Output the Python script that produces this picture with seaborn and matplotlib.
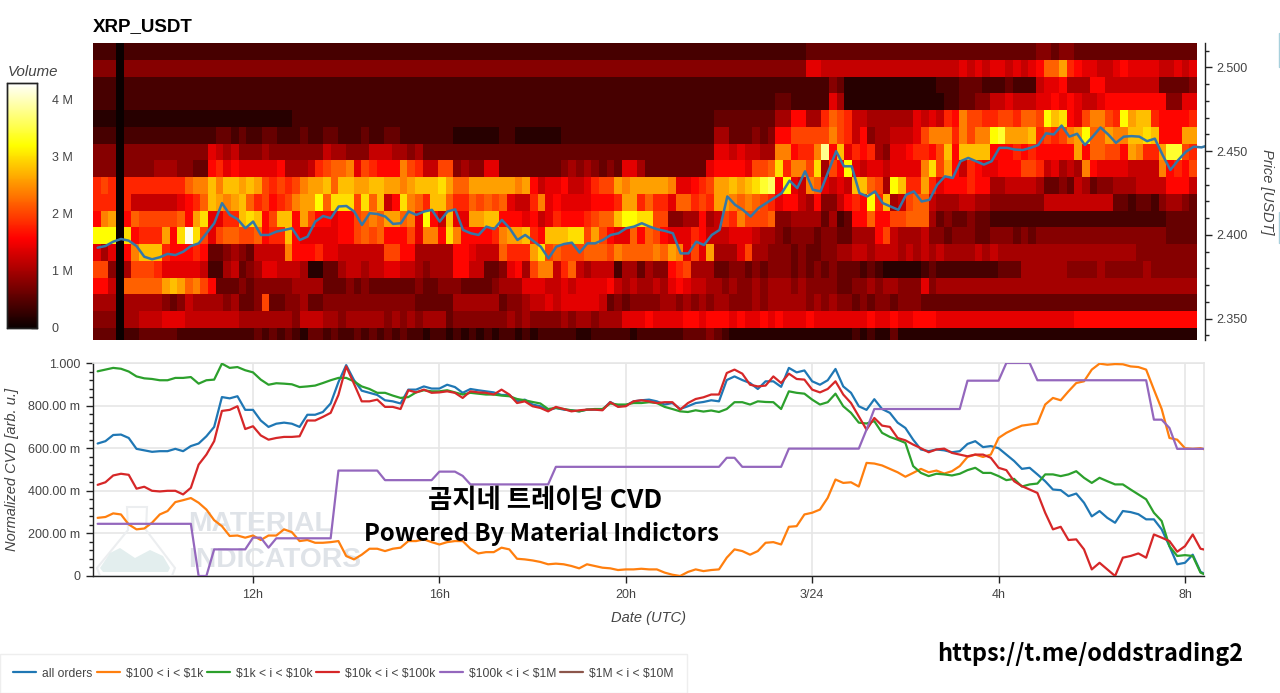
import numpy as np
import pandas as pd
import matplotlib
matplotlib.use("Agg")
import matplotlib.pyplot as plt
from matplotlib.lines import Line2D
from matplotlib.patches import Polygon
from matplotlib.ticker import MultipleLocator
from matplotlib.transforms import Affine2D
import seaborn as sns

W, H = 1280, 693
GREY = "#444444"
GRID = "#e6e6e6"

# Volume per price band, top row first. One character per 10 min bin, base 36, unit 0.2 M
vol_left = [
    "2220" + "2" * 38,
    "4440" + "4" * 38,
    "2220" + "2" * 38,
    "2220" + "2" * 38,
    "1110" + "1" * 22 + "2" * 16,
    "2220" + "2" * 12 + "33232233222322332223223322",
    "4440" + "44444444444" + "7656" + "44454444444" + "6554" + "44" + "6665" + "54",
    "4440" + "44445554" + "433" + "8978" + "777778" + "5556" + "9abbc" + "7a" + "9888" + "ca",
    "9a90" + "99999999" + "bcc" + "ecee" + "ded" + "a9a9a" + "cddeb" + "eedde" + "edd" + "cd",
    "9990" + "9" + "6666667" + "89b" + "ed" + "cde" + "b" + "9a89a" + "cdd" + "gbf" + "ff" + "afbe" + "68" + "fc",
    "8cd0" + "8" + "baaaaab" + "8df" + "77" + "99" + "efe" + "8a" + "ee" + "8da88" + "7" + "88" + "abcb" + "dd" + "bc",
    "ggg0" + "f" + "8999" + "d8f" + "lfa" + "7" + "abba" + "ab" + "899" + "e" + "877" + "77788" + "a" + "bab" + "888" + "a",
    "7570" + "8" + "ceee" + "9888" + "98" + "33" + "4543" + "6666" + "c" + "8889" + "7766" + "6666" + "aa" + "88",
    "aa40" + "5" + "aaa9" + "777" + "776" + "22" + "56" + "345" + "776" + "665" + "11" + "33" + "56" + "656" + "67766",
    "8860" + "bbbbb" + "ded" + "bca" + "8" + "33343" + "4444" + "4555" + "533" + "3434333333",
    "5550" + "55555" + "434" + "655" + "5545" + "334" + "a" + "3344" + "533" + "444444444444",
    "4440" + "55666" + "777" + "666" + "666655" + "555" + "554" + "666" + "554" + "555554545",
    "3330" + "223333" + "32222" + "222222" + "3232" + "321" + "33232" + "232323232",
]
vol_mid = [
    "2" * 51 + "3333",
    "4" * 51 + "7766",
    "2" * 51 + "2224",
    "2" * 47 + "33" + "22222" + "7",
    "2" * 39 + "33333333" + "55" + "88" + "55" + "9b",
    "22222" + "111111" + "22" + "111111" + "2" * 20 + "55" + "333434" + "88" + "aa" + "aaa" + "c",
    "5" + "3333" + "3" * 34 + "77676655" + "cc" + "899" + "c" + "j" + "8",
    "9" + "66" + "aa" + "4" + "5" + "44" + "77" + "3333333" + "34545" + "4343" + "77" + "53" + "3333333" + "7" + "88887" + "aab" + "f" + "9" + "cca" + "f" + "5" + "a",
    "eeefd" + "bb" + "d" + "ddd" + "ddc" + "d" + "8" + "677" + "8" + "667" + "9aa" + "d" + "cddddd" + "c" + "77" + "89a" + "dd" + "e" + "d" + "ef" + "hi" + "8" + "g" + "76" + "c" + "b" + "76",
    "b" + "9" + "ee" + "b" + "99" + "baba" + "b" + "766" + "9c" + "787777888" + "9" + "dd" + "9" + "b" + "99" + "7" + "bb" + "9a9" + "dd" + "cbc" + "ba9" + "7" + "88" + "6" + "5" + "8" + "44",
    "7" + "g" + "86" + "e" + "77" + "ddee" + "888" + "7" + "8" + "679" + "888" + "9abb" + "e" + "gg" + "ff" + "aa" + "44" + "55" + "8" + "5" + "6" + "a9" + "c" + "aaab" + "44" + "555" + "535",
    "7" + "cc" + "8" + "f" + "c" + "88889" + "cdde" + "98" + "eeeff" + "a" + "d" + "a8" + "77" + "b" + "8" + "ba" + "8" + "777" + "98" + "66677" + "7" + "655" + "43444344",
    "55555" + "887" + "666" + "b" + "999" + "df" + "abaaabbba" + "c" + "bbbbcb" + "dc" + "7" + "a" + "7" + "d" + "555" + "7" + "a" + "554" + "44343344",
    "54555" + "88" + "66" + "33" + "4" + "78" + "5" + "acc" + "6" + "9b" + "656" + "66" + "2" + "55" + "3" + "5" + "44" + "89a" + "555" + "33443434" + "44343434",
    "433444" + "33334" + "555" + "777" + "667677" + "778" + "6565565" + "787" + "665" + "5454454555454444",
    "33333" + "555555" + "344" + "5667" + "67777" + "76" + "3434" + "4445" + "545" + "454" + "5544" + "4545" + "55554545",
    "4" + "555" + "3" + "444444454544445455455" + "5" + "777" + "877778" + "8788878778787778777",
    "21221" + "21212122121" + "22222112222" + "21222222" + "3334" + "3211" + "1" * 12,
]
vol_right = [
    "3" * 26 + "44344" + "33" + "3" * 9 + "3" * 5,
    "6" * 16 + "7676776767" + "8bbd9" + "87" + "7667" + "87" + "77766767",
    "3" + "111111111111222" + "3332223222" + "6778" + "555" + "88" + "6666666" + "33334",
    "5" + "111111111111122" + "3344" + "667666" + "778787" + "667" + "88888888" + "44" + "77",
    "a9" + "66" + "55555576" + "76" + "98" + "c" + "aa9" + "9aa9bb" + "a" + "g" + "e" + "f" + "8" + "7" + "a" + "cc" + "a9" + "g" + "d" + "ee" + "9" + "8888" + "9",
    "a9" + "68" + "45" + "56" + "667" + "a" + "ccc" + "9" + "c" + "ac" + "c" + "gh" + "ddde" + "9" + "a" + "9" + "a" + "cd" + "g" + "bb" + "dc" + "c" + "eefe" + "888" + "dd",
    "e7" + "98" + "9" + "54" + "77" + "899" + "8" + "a" + "e" + "8" + "eeee" + "888989" + "88888" + "d" + "8" + "bbaa" + "8" + "dc" + "99" + "d" + "hh" + "a9",
    "8g" + "76776777" + "7" + "cf" + "a" + "d" + "869877" + "888" + "aa9" + "67565" + "c" + "8777" + "76666" + "c" + "89" + "8a",
    "76" + "ee" + "b" + "a" + "5" + "g" + "e" + "9" + "9" + "d" + "9" + "788" + "8988" + "5566665" + "3343" + "65" + "344" + "555" + "666" + "6" + "888" + "6",
    "6" + "898" + "g" + "9" + "e" + "56" + "ab" + "b" + "6" + "555" + "6655" + "4444444" + "666666666" + "332332" + "45543",
    "23" + "88" + "b" + "88" + "a" + "abb" + "b" + "5" + "343" + "3433" + "2" * 22 + "2" + "3333",
    "33" + "555" + "8a" + "65556" + "4434" + "4433" + "444343444444444444444443333",
    "556656665656565" + "55565655555" + "555555555" + "555544444444",
    "3332321111123222" + "2222" + "2333" + "55555544445444445444444",
    "33" + "445455444" + "74" + "5" * 34,
    "443434434" + "44" + "3" * 36,
    "7777877877888" + "7" * 18 + "8" * 16,
    "1121211" + "3" + "1" * 39,
]

# Price line, USDT, one value per 10 min
price = [
    2.3924, 2.3934, 2.3960, 2.3976, 2.3966, 2.3934, 2.3870, 2.3855, 2.3867, 2.3887,
    2.3880, 2.3900, 2.3934, 2.3950, 2.4010, 2.4070, 2.4190, 2.4120, 2.4094, 2.4040,
    2.4080, 2.4000, 2.4000, 2.4020, 2.4030, 2.4040, 2.3970, 2.3990, 2.4080, 2.4113,
    2.4100, 2.4170, 2.4173, 2.4140, 2.4060, 2.4130, 2.4125, 2.4110, 2.4066, 2.4070,
    2.4140, 2.4120, 2.4140, 2.4150, 2.4080, 2.4140, 2.4153, 2.4030, 2.4010, 2.4000,
    2.4050, 2.4035, 2.4090, 2.4040, 2.3970, 2.4000, 2.3966, 2.3930, 2.3860, 2.3930,
    2.3946, 2.3954, 2.3895, 2.3950, 2.3950, 2.3970, 2.4000, 2.4010, 2.4040, 2.4050,
    2.4070, 2.4050, 2.4034, 2.4024, 2.4010, 2.3890, 2.3890, 2.3960, 2.3940, 2.4000,
    2.4030, 2.4230, 2.4180, 2.4150, 2.4110, 2.4160, 2.4190, 2.4220, 2.4250, 2.4324,
    2.4280, 2.4380, 2.4270, 2.4260, 2.4380, 2.4500, 2.4410, 2.4410, 2.4250, 2.4230,
    2.4260, 2.4190, 2.4170, 2.4150, 2.4240, 2.4260, 2.4200, 2.4210, 2.4300, 2.4350,
    2.4340, 2.4440, 2.4460, 2.4440, 2.4420, 2.4440, 2.4520, 2.4520, 2.4510, 2.4507,
    2.4520, 2.4537, 2.4607, 2.4600, 2.4653, 2.4587, 2.4604, 2.4537, 2.4587, 2.4642,
    2.4600, 2.4550, 2.4587, 2.4590, 2.4587, 2.4560, 2.4575, 2.4477, 2.4388, 2.4447,
    2.4497, 2.4527, 2.4523, 2.4537,
]

# Normalized CVD per order size bucket, one value per 10 min
cvd_all = [
    .622, .633, .662, .664, .648, .597, .590, .583, .586, .586,
    .597, .586, .610, .622, .656, .700, .840, .834, .844, .780,
    .780, .730, .700, .715, .720, .715, .700, .757, .757, .770,
    .810, .910, .990, .920, .870, .860, .850, .825, .820, .810,
    .875, .875, .890, .880, .880, .898, .887, .860, .878, .872,
    .867, .862, .850, .850, .820, .828, .805, .797, .778, .789,
    .781, .778, .773, .781, .781, .781, .817, .797, .800, .820,
    .825, .828, .820, .805, .812, .784, .797, .812, .817, .825,
    .820, .920, .937, .920, .906, .878, .914, .914, .888, .977,
    .956, .965, .914, .898, .919, .972, .890, .860, .797, .780,
    .830, .784, .766, .720, .695, .640, .594, .586, .594, .590,
    .581, .586, .620, .633, .605, .610, .600, .570, .540, .503,
    .508, .477, .445, .406, .403, .375, .387, .344, .280, .305,
    .273, .250, .305, .300, .290, .266, .266, .219, .140, .055,
    .062, .100, .020, .000,
]
cvd_100_1k = [
    .273, .277, .294, .289, .242, .219, .223, .250, .289, .305,
    .347, .356, .366, .344, .312, .262, .234, .188, .190, .180,
    .190, .169, .190, .190, .219, .206, .164, .169, .156, .156,
    .159, .164, .094, .078, .100, .128, .128, .117, .128, .133,
    .164, .164, .172, .159, .148, .159, .164, .164, .128, .106,
    .112, .112, .133, .125, .081, .078, .073, .066, .055, .058,
    .055, .047, .036, .055, .047, .039, .036, .028, .031, .031,
    .034, .031, .031, .016, .006, .000, .019, .031, .023, .028,
    .031, .086, .125, .117, .100, .117, .156, .159, .148, .231,
    .234, .289, .297, .312, .367, .453, .437, .440, .420, .531,
    .528, .519, .503, .487, .466, .484, .503, .487, .495, .481,
    .492, .516, .559, .570, .559, .570, .648, .672, .690, .706,
    .711, .716, .805, .836, .825, .867, .906, .914, .969, .997,
    .992, .995, .994, .984, .981, .969, .875, .784, .648, .640,
    .600, .597, .600, .590,
]
cvd_1k_10k = [
    .961, .969, .977, .973, .960, .937, .928, .925, .919, .919,
    .930, .930, .934, .903, .919, .922, .997, .977, .981, .966,
    .956, .922, .898, .905, .903, .900, .887, .890, .894, .906,
    .919, .930, .930, .914, .890, .878, .860, .860, .847, .836,
    .840, .862, .872, .867, .867, .872, .862, .852, .860, .856,
    .852, .852, .847, .844, .831, .825, .817, .810, .784, .789,
    .784, .778, .773, .781, .784, .784, .810, .805, .805, .812,
    .812, .816, .812, .794, .784, .773, .770, .778, .772, .777,
    .770, .784, .816, .816, .805, .820, .817, .816, .784, .867,
    .860, .856, .828, .805, .816, .856, .797, .766, .720, .716,
    .727, .672, .653, .640, .625, .516, .484, .469, .480, .477,
    .472, .480, .497, .508, .484, .484, .469, .450, .456, .420,
    .430, .434, .477, .477, .469, .477, .492, .461, .437, .461,
    .445, .430, .430, .406, .383, .360, .297, .258, .140, .094,
    .098, .094, .016, .000,
]
cvd_10k_100k = [
    .428, .440, .472, .480, .475, .410, .419, .400, .397, .400,
    .400, .383, .414, .523, .570, .633, .775, .780, .797, .690,
    .703, .660, .640, .648, .653, .653, .656, .730, .730, .747,
    .766, .850, .984, .903, .820, .820, .828, .794, .794, .784,
    .872, .862, .875, .860, .862, .867, .860, .836, .867, .862,
    .860, .852, .875, .852, .812, .820, .797, .789, .773, .794,
    .784, .773, .778, .781, .781, .778, .816, .794, .797, .820,
    .825, .820, .812, .816, .816, .781, .812, .831, .839, .852,
    .852, .953, .969, .950, .898, .890, .894, .937, .906, .950,
    .925, .922, .875, .862, .878, .914, .852, .812, .750, .687,
    .742, .706, .700, .648, .637, .617, .600, .581, .594, .598,
    .578, .570, .562, .570, .570, .555, .508, .497, .445, .422,
    .406, .390, .297, .219, .231, .169, .172, .125, .031, .062,
    .031, .000, .086, .094, .106, .086, .195, .180, .164, .114,
    .140, .195, .128, .120,
]
cvd_100k_1m = (
    [.245] * 13 + [0, 0] + [.125] * 5 + [.18, .18, .133] + [.177] * 8
    + [.495] * 6 + [.45] * 7 + [.49, .49, .49, .47] + [.43] * 11
    + [.5125] * 22 + [.555, .555] + [.5125] * 6 + [.598] * 10 + [.6875]
    + [.784] * 12 + [.917] * 5 + [1.0] * 4 + [.919] * 15
    + [.734, .734, .695] + [.597] * 5
)

series_names = ["all orders", "$100 < i < $1k", "$1k < i < $10k", "$10k < i < $100k", "$100k < i < $1M", "$1M < i < $10M"]
series_colors = ["#1f77b4", "#ff7f0e", "#2ca02c", "#d62728", "#9467bd", "#8c564b"]

cvd_yticks = [0, 0.2, 0.4, 0.6, 0.8, 1.0]
cvd_ylabels = ["0", "200.00 m", "400.00 m", "600.00 m", "800.00 m", "1.000"]
date_ticks = ["2025-03-23 12:00", "2025-03-23 16:00", "2025-03-23 20:00", "2025-03-24 00:00", "2025-03-24 04:00", "2025-03-24 08:00"]
date_labels = ["12h", "16h", "20h", "3/24", "4h", "8h"]
volume_ticks = [0, 1, 2, 3, 4]
volume_labels = ["0", "1 M", "2 M", "3 M", "4 M"]

sns.set_style("white")
plt.rcParams["font.family"] = ["Liberation Sans", "DejaVu Sans"]
plt.rcParams["text.parse_math"] = False

fig = plt.figure(figsize=(W / 100, H / 100), dpi=100)
to_px = Affine2D().scale(1 / W, -1 / H).translate(0, 1) + fig.transFigure


def px_axes(left, top, right, bottom, **kwargs):
    return fig.add_axes([left / W, 1 - bottom / H, (right - left) / W, (bottom - top) / H], **kwargs)


times = pd.date_range("2025-03-23 08:40", periods=len(cvd_all), freq="10min")
x_start, x_end = pd.Timestamp("2025-03-23 08:34"), pd.Timestamp("2025-03-24 08:24:30")

# Heatmap and colour bar
volume = np.array([[int(c, 36) for c in a + b + c_] for a, b, c_ in zip(vol_left, vol_mid, vol_right)]) * 0.2
ax_heat = px_axes(93, 43, 1197, 340)
ax_bar = px_axes(7.3, 82.7, 36.7, 328)
sns.heatmap(volume, ax=ax_heat, cbar_ax=ax_bar, cmap="hot", vmin=0, vmax=4.3,
            xticklabels=False, yticklabels=False, linewidths=0)
ax_heat.set_ylim(17.72, 0)

ax_bar.yaxis.set_ticks_position("right")
ax_bar.set_yticks(volume_ticks, volume_labels)
ax_bar.tick_params(axis="y", direction="in", length=4, width=1, color="#222222", pad=11, labelsize=9, labelcolor=GREY)
for spine in ax_bar.spines.values():
    spine.set_visible(True)
    spine.set_edgecolor("#222222")
    spine.set_linewidth(1)
fig.text(8, 72, "Volume", transform=to_px, style="italic", fontsize=10.8, color=GREY, ha="left", va="center")

# Price line on its own scale over the heatmap
ax_price = px_axes(93, 43, 1205, 340)
ax_price.patch.set_alpha(0)
sns.lineplot(x=times, y=price, ax=ax_price, color="#3478a8", linewidth=1.8, errorbar=None)
ax_price.set_xlim(x_start, x_end)
ax_price.set_ylim(2.3373, 2.5146)
ax_price.set_xticks([])
ax_price.set_xlabel("")
ax_price.set_ylabel("")
ax_price.yaxis.tick_right()
ax_price.yaxis.set_major_locator(MultipleLocator(0.05))
ax_price.yaxis.set_minor_locator(MultipleLocator(0.01))
ax_price.yaxis.set_major_formatter(lambda v, pos: f"{v:.3f}")
ax_price.tick_params(axis="y", which="major", direction="out", length=5, width=1, color="#222222", pad=3.5, labelsize=9, labelcolor=GREY)
ax_price.tick_params(axis="y", which="minor", direction="out", length=3, width=1, color="#222222")
for side in ["left", "top", "bottom"]:
    ax_price.spines[side].set_visible(False)
ax_price.spines["right"].set_color("#222222")
ax_price.spines["right"].set_linewidth(1)
fig.text(1267, 192, "Price [USDT]", transform=to_px, style="italic", fontsize=10.5, color=GREY,
         rotation=270, ha="center", va="center")

fig.text(93, 27, "XRP_USDT", transform=to_px, fontweight="bold", fontsize=13.5, color="black", ha="left", va="center")

# Slivers of the neighbouring page at the right edge
fig.add_artist(Line2D([1279, 1279], [33, 67], transform=to_px, color="#a8d0dc", linewidth=1))
fig.add_artist(Line2D([1279, 1279], [212, 243], transform=to_px, color="#a8d0dc", linewidth=1))

# CVD lines
ax_cvd = px_axes(93, 363, 1204, 576)
all_series = [cvd_all, cvd_100_1k, cvd_1k_10k, cvd_10k_100k, cvd_100k_1m]
for name, color, values in zip(series_names, series_colors, all_series):
    sns.lineplot(x=times, y=values, ax=ax_cvd, color=color, linewidth=1.6, label=name, errorbar=None, zorder=3)
ax_cvd.set_xlim(x_start, x_end)
ax_cvd.set_ylim(0, 1)
ax_cvd.set_yticks(cvd_yticks, cvd_ylabels)
ax_cvd.yaxis.set_minor_locator(MultipleLocator(0.04))
ax_cvd.set_xticks(pd.to_datetime(date_ticks), date_labels)
ax_cvd.grid(True, which="major", color=GRID, linewidth=1.2)
ax_cvd.set_axisbelow(True)
ax_cvd.tick_params(axis="both", which="major", direction="out", length=5, width=1, color="#222222", pad=4, labelsize=9, labelcolor=GREY)
ax_cvd.tick_params(axis="y", which="minor", direction="out", length=3, width=1, color="#222222", left=True)
ax_cvd.tick_params(axis="both", which="major", left=True, bottom=True)
ax_cvd.set_xlabel("Date (UTC)", style="italic", fontsize=10.5, color=GREY, labelpad=7.5)
ax_cvd.set_ylabel("")
fig.text(12, 469, "Normalized CVD [arb. u.]", transform=to_px, style="italic", fontsize=10.5, color=GREY,
         rotation=90, ha="center", va="center")
for side in ["left", "bottom"]:
    ax_cvd.spines[side].set_color("#222222")
    ax_cvd.spines[side].set_linewidth(1)
for side in ["top", "right"]:
    ax_cvd.spines[side].set_color(GRID)
    ax_cvd.spines[side].set_linewidth(1.2)

# Watermark behind the lines
flask_line = [(127, 507), (147, 507), (146, 530), (175, 568), (172, 576), (100, 576), (97, 568), (128, 530)]
flask_fill = [(110, 553), (120, 548), (135, 558), (150, 550), (163, 556), (170, 568), (168, 572), (103, 572), (100, 568)]
mark_font = ["Liberation Sans Narrow", "Liberation Sans"]
ax_cvd.add_patch(Polygon(flask_line, closed=True, transform=to_px, facecolor="none", edgecolor="#eceef0", linewidth=1.5, zorder=1))
ax_cvd.add_patch(Polygon(flask_fill, closed=True, transform=to_px, facecolor="#e3eeee", edgecolor="none", zorder=1))
ax_cvd.text(188, 524, "MATERIAL", transform=to_px, family=mark_font, fontsize=20.3, fontweight="bold", color="#dfe3e8", ha="left", va="center", zorder=1)
ax_cvd.text(188, 560, "INDICATORS", transform=to_px, family=mark_font, fontsize=20.3, fontweight="bold", color="#dfe3e8", ha="left", va="center", zorder=1)

# Overlay captions
caption_font = ["Noto Sans CJK KR", "DejaVu Sans"]
fig.text(545, 500, "곰지네 트레이딩 CVD", transform=to_px, family=caption_font, fontweight="bold", fontsize=19, color="black", ha="center", va="center")
fig.text(541.5, 534, "Powered By Material Indictors", transform=to_px, family=caption_font, fontweight="bold", fontsize=17.2, color="black", ha="center", va="center")
fig.text(1090, 654, "https://t.me/oddstrading2", transform=to_px, family=caption_font, fontweight="bold", fontsize=16.9, color="black", ha="center", va="center")

# Legend, the last bucket has no visible line
handles, labels = ax_cvd.get_legend_handles_labels()
handles.append(Line2D([], [], color=series_colors[5], linewidth=1.6))
labels.append(series_names[5])
ax_cvd.legend(handles, labels, ncol=6, loc="lower left", bbox_to_anchor=(0, 0), bbox_transform=fig.transFigure,
              fontsize=8.7, frameon=True, fancybox=False, edgecolor="#eeeeee", framealpha=1, borderaxespad=0,
              handlelength=1.9, handletextpad=0.5, columnspacing=0.33, borderpad=1.1, labelcolor=GREY)

fig.savefig("out.png", dpi=100)
